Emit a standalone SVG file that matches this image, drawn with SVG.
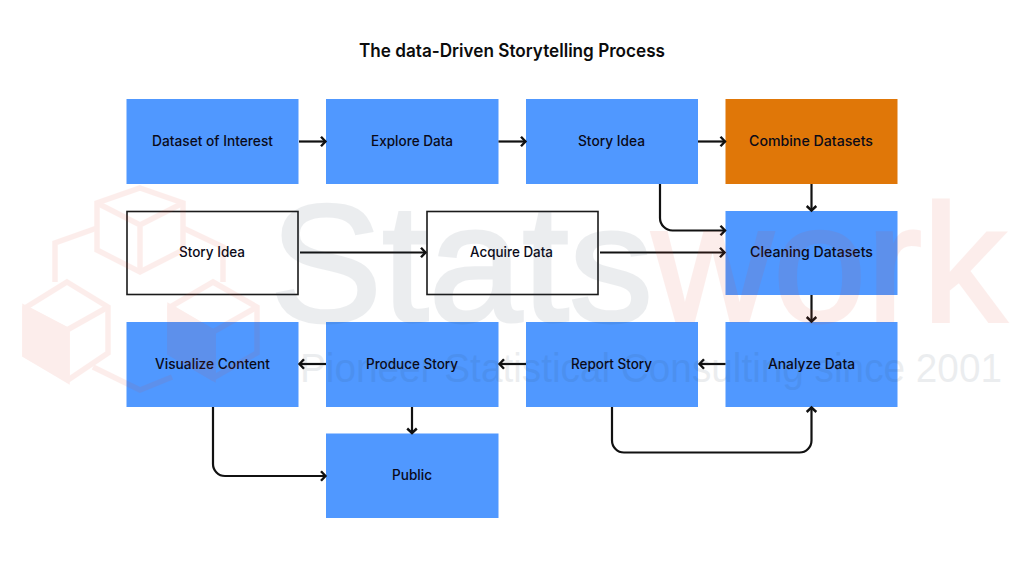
<svg xmlns="http://www.w3.org/2000/svg" width="1024" height="576" viewBox="0 0 1024 576">
<style>
.b{fill:#5098ff}
.o{fill:#e07708}
.w{fill:#fff;stroke:#1a1a1a;stroke-width:1.6}
.t{font-family:Inter,"Liberation Sans",sans-serif;font-size:14px;font-weight:500;fill:#0a0a18;text-anchor:middle}
.c{fill:none;stroke:#111;stroke-width:2.2;marker-end:url(#a)}
.cube{fill:none;stroke:#e8402a;stroke-width:5.500;stroke-linejoin:miter}
.wm{font-family:"Liberation Sans",Arial,sans-serif}
</style>
<defs>
<marker id="a" markerUnits="userSpaceOnUse" markerWidth="12" markerHeight="14" refX="9" refY="7" orient="auto">
<path d="M4,2.200 L8.500,7 L4,11.800" fill="none" stroke="#111" stroke-width="2.400"/>
</marker>
</defs>
<rect width="1024" height="576" fill="#fff"/>
<text x="512" y="57" style="font-family:Inter,'Liberation Sans',sans-serif;font-size:18px;font-weight:600;fill:#0c0c0c;text-anchor:middle" textLength="306" lengthAdjust="spacingAndGlyphs">The data-Driven Storytelling Process</text>
<g id="n1"><rect class="b" x="126.500" y="99" width="172" height="85"/><text class="t" x="212.500" y="146" textLength="121" lengthAdjust="spacingAndGlyphs">Dataset of Interest</text></g>
<g id="n2"><rect class="b" x="326" y="99" width="172.500" height="85"/><text class="t" x="412" y="146" textLength="82" lengthAdjust="spacingAndGlyphs">Explore Data</text></g>
<g id="n3"><rect class="b" x="526" y="99" width="172" height="85"/><text class="t" x="611.500" y="146" textLength="67" lengthAdjust="spacingAndGlyphs">Story Idea</text></g>
<g id="n4"><rect class="o" x="725.500" y="99" width="172" height="85"/><text class="t" x="811" y="146" textLength="124" lengthAdjust="spacingAndGlyphs">Combine Datasets</text></g>
<g id="n5"><rect class="w" x="127" y="211.500" width="171" height="83"/><text class="t" x="212" y="257" textLength="66" lengthAdjust="spacingAndGlyphs">Story Idea</text></g>
<g id="n6"><rect class="w" x="427" y="211.500" width="171" height="83"/><text class="t" x="511.500" y="257" textLength="83" lengthAdjust="spacingAndGlyphs">Acquire Data</text></g>
<g id="n7"><rect class="b" x="725.500" y="211" width="172" height="84"/><text class="t" x="811.500" y="257" textLength="123" lengthAdjust="spacingAndGlyphs">Cleaning Datasets</text></g>
<g id="n8"><rect class="b" x="126.500" y="322" width="172" height="85"/><text class="t" x="212.500" y="368.500" textLength="115" lengthAdjust="spacingAndGlyphs">Visualize Content</text></g>
<g id="n9"><rect class="b" x="326" y="322" width="172.500" height="85"/><text class="t" x="412" y="368.500" textLength="92" lengthAdjust="spacingAndGlyphs">Produce Story</text></g>
<g id="n10"><rect class="b" x="526" y="322" width="172" height="85"/><text class="t" x="611.500" y="368.500" textLength="81" lengthAdjust="spacingAndGlyphs">Report Story</text></g>
<g id="n11"><rect class="b" x="725.500" y="322" width="172" height="85"/><text class="t" x="811.500" y="368.500" textLength="87" lengthAdjust="spacingAndGlyphs">Analyze Data</text></g>
<g id="n12"><rect class="b" x="326" y="433.500" width="172.500" height="84.500"/><text class="t" x="412" y="480" textLength="40" lengthAdjust="spacingAndGlyphs">Public</text></g>
<g id="connectors">
<path class="c" d="M299,141.500H326"/>
<path class="c" d="M498.500,141.500H526"/>
<path class="c" d="M698,141.500H725.500"/>
<path class="c" d="M811.500,184V211"/>
<path class="c" d="M660,184V218a12.500,12.500 0 0 0 12.500,12.500H725.500"/>
<path class="c" d="M300,252.500H426"/>
<path class="c" d="M600,252.500H725"/>
<path class="c" d="M811.500,295V322"/>
<path class="c" d="M725.500,364H699"/>
<path class="c" d="M526,364H499"/>
<path class="c" d="M326,364H299"/>
<path class="c" d="M412,407V433.500"/>
<path class="c" d="M213,407V464a12,12 0 0 0 12,12H326"/>
<path class="c" d="M612,407V440.500a12,12 0 0 0 12,12H799.500a12,12 0 0 0 12,-12V407"/>
</g>
<g id="watermark" opacity="0.085">
<g class="cube">
<path d="M140,188L183,203V250L140,272L97,250V203Z"/>
<path d="M97,203L140,225L183,203M140,225V272"/>
<path d="M97,228L55,243V282M183,228L223,247V282"/>
<path d="M67,282L108,307V353L68,380L25,355V308Z"/>
<path d="M25,308L67,330L108,307M67,330V380"/>
<path d="M25,308L67,330V380L25,355Z" fill="#e8402a"/>
<path d="M93,367L140,390L172,377"/>
<path d="M213,282L257,307V353L213,378L170,353V307Z"/>
<path d="M170,307L213,332L257,307M213,332V378"/>
<path d="M170,307L213,332V378L170,353Z" fill="#e8402a"/>
</g>
<text class="wm" x="270" y="321" font-size="167" fill="#2b3f55" stroke="#2b3f55" stroke-width="3" textLength="383" lengthAdjust="spacingAndGlyphs">Stats</text>
<text class="wm" x="652" y="321" font-size="167" fill="#e8402a" stroke="#e8402a" stroke-width="3" textLength="354" lengthAdjust="spacingAndGlyphs">work</text>
<text class="wm" x="300" y="382" font-size="40" fill="#2b3f55" textLength="702" lengthAdjust="spacingAndGlyphs">Pioneer Statistical Consulting since 2001</text>
</g>
</svg>
